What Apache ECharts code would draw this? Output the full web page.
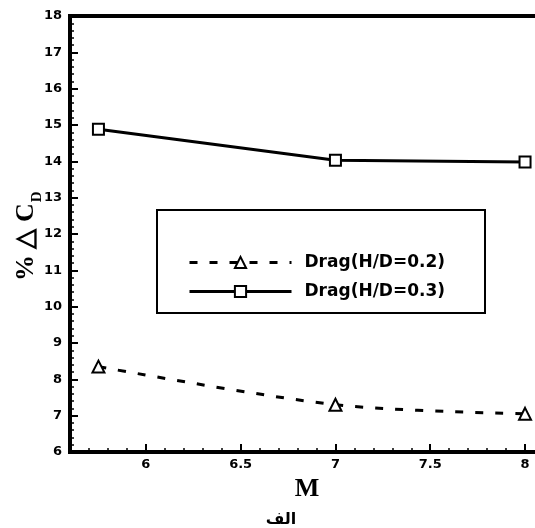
<!DOCTYPE html>
<html>
<head>
<meta charset="utf-8">
<script src="https://cdn.jsdelivr.net/npm/echarts@6/dist/echarts.min.js"></script>
<style>html,body{margin:0;padding:0;background:#fff;overflow:hidden;}#c{width:535px;height:528px;}</style>
</head>
<body>
<div id="c"></div>
<script>
const M = [5.75, 7, 8];
const drag02 = [8.35, 7.3, 7.05];
const drag03 = [14.88, 14.03, 13.98];
const seriesNames = ['Drag(H/D=0.2)', 'Drag(H/D=0.3)'];
const xTickLabels = [6, 6.5, 7, 7.5, 8];
const xMinorTicks = [5.7, 5.8, 5.9, 6.1, 6.2, 6.3, 6.4, 6.6, 6.7, 6.8, 6.9, 7.1, 7.2, 7.3, 7.4, 7.6, 7.7, 7.8, 7.9];
const yTitle = '% \u25B3 C';
const yTitleSub = 'D';
const xTitle = 'M';
const caption = 'الف';

const X_MIN = 5.6, X_MAX = 8.1, Y_MIN = 6, Y_MAX = 18;

const chart = echarts.init(document.getElementById('c'), null, {renderer: 'canvas'});

function pairs(xs, ys) { return xs.map((x, i) => [x, ys[i]]); }

const ctx = document.createElement('canvas').getContext('2d');
ctx.font = 'bold 26px "Liberation Serif"';
const wMain = ctx.measureText(yTitle).width;

const labelFont = {fontFamily: 'DejaVu Sans', fontWeight: 'bold', fontSize: 13, color: '#000'};

chart.setOption({
  animation: false,
  backgroundColor: '#fff',
  grid: {left: 70, top: 16, width: 474, height: 436, outerBoundsMode: 'none', containLabel: false,
         show: true, borderColor: '#000', borderWidth: 4, backgroundColor: 'transparent'},
  xAxis: [{
    type: 'value', min: X_MIN, max: X_MAX, position: 'bottom',
    name: xTitle, nameLocation: 'middle', nameGap: 16,
    nameTextStyle: {fontFamily: 'Liberation Serif', fontWeight: 'bold', fontSize: 26, color: '#000', verticalAlign: 'top'},
    axisLine: {show: true, onZero: false, lineStyle: {color: '#000', width: 4}},
    axisTick: {show: true, inside: true, length: 8, customValues: xTickLabels, lineStyle: {color: '#000', width: 2}},
    axisLabel: {show: true, customValues: xTickLabels, margin: 6, ...labelFont},
    splitLine: {show: false}
  }, {
    type: 'value', min: X_MIN, max: X_MAX, position: 'bottom',
    axisLine: {show: false},
    axisTick: {show: true, inside: true, length: 4, customValues: xMinorTicks, lineStyle: {color: '#000', width: 1.5}},
    axisLabel: {show: false},
    splitLine: {show: false}
  }],
  yAxis: {
    type: 'value', min: Y_MIN, max: Y_MAX, interval: 1,
    axisLine: {show: true, onZero: false, lineStyle: {color: '#000', width: 4}},
    axisTick: {show: true, inside: true, length: 8, lineStyle: {color: '#000', width: 2}},
    minorTick: {show: true, splitNumber: 5, length: 4, lineStyle: {color: '#000', width: 1.5}},
    axisLabel: {margin: 8, ...labelFont},
    splitLine: {show: false}
  },
  legend: {
    show: true, orient: 'vertical', left: 183, top: 249,
    itemWidth: 102, itemHeight: 14, itemGap: 12,
    selectedMode: false,
    data: seriesNames,
    lineStyle: {width: 3},
    textStyle: {fontFamily: 'DejaVu Sans', fontWeight: 'bold', fontSize: 17, lineHeight: 16, color: '#000', padding: [0, 0, 0, 8]}
  },
  graphic: [
    {type: 'rect', z: 3, shape: {x: 157, y: 210, width: 328, height: 103}, style: {fill: '#fff', stroke: '#000', lineWidth: 2}},
    {type: 'group', x: 26, y: 281, rotation: Math.PI / 2, children: [
      {type: 'text', x: 0, y: 0, style: {text: yTitle, fontFamily: 'Liberation Serif', fontWeight: 'bold', fontSize: 26, fill: '#000', align: 'left', verticalAlign: 'middle'}},
      {type: 'text', x: wMain + 1, y: 11, style: {text: yTitleSub, fontFamily: 'Liberation Serif', fontWeight: 'bold', fontSize: 15, fill: '#000', align: 'left', verticalAlign: 'middle'}}
    ]},
    {type: 'text', x: 281, y: 520, style: {text: caption, fontFamily: 'DejaVu Sans', fontWeight: 'bold', fontSize: 16, fill: '#000', align: 'center', verticalAlign: 'middle'}}
  ],
  series: [{
    name: seriesNames[0], type: 'line', xAxisIndex: 0, data: pairs(M, drag02),
    smooth: 0.3,
    symbol: 'triangle', symbolSize: 12,
    itemStyle: {color: '#fff', borderColor: '#000', borderWidth: 2},
    lineStyle: {color: '#000', width: 3, type: [8, 12]},
    z: 5
  }, {
    name: seriesNames[1], type: 'line', xAxisIndex: 0, data: pairs(M, drag03),
    symbol: 'rect', symbolSize: 11,
    itemStyle: {color: '#fff', borderColor: '#000', borderWidth: 2},
    lineStyle: {color: '#000', width: 3},
    z: 5
  }]
});
</script>
</body>
</html>
